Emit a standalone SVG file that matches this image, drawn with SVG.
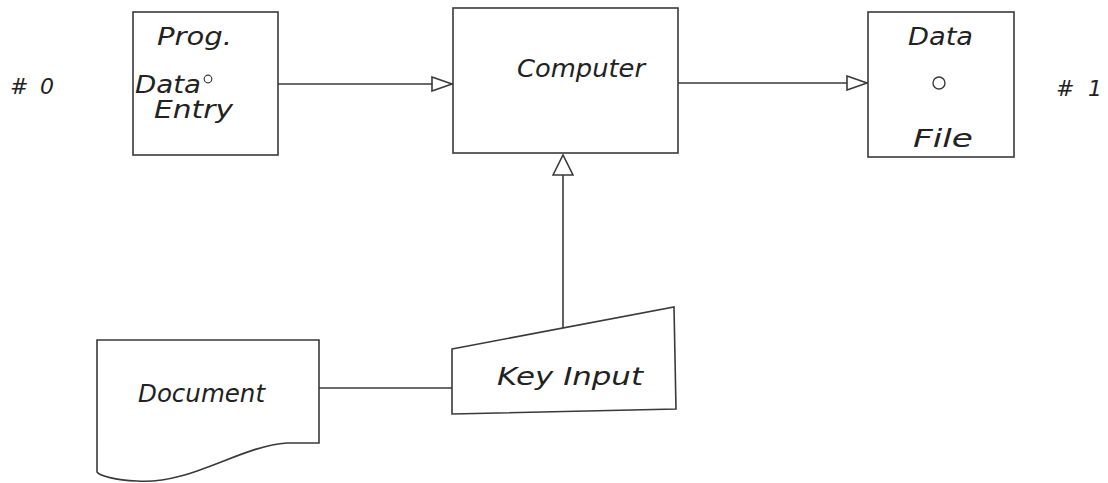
<svg xmlns="http://www.w3.org/2000/svg" width="1108" height="483" viewBox="0 0 1108 483">
  <style>
    .shape { fill: none; stroke: #3a3a3a; stroke-width: 1.6; }
    .conn { fill: none; stroke: #3a3a3a; stroke-width: 1.6; }
    .lbl { font-family: "DejaVu Sans", "Liberation Sans", sans-serif; font-style: italic; font-size: 24px; fill: #222; }
    .tag { font-family: "DejaVu Sans", "Liberation Sans", sans-serif; font-style: italic; font-size: 22px; fill: #222; }
  </style>
  <defs>
    <marker id="tri" viewBox="0 0 22 16" refX="22" refY="8" markerWidth="22" markerHeight="16" markerUnits="userSpaceOnUse" orient="auto">
      <path d="M1,1 L21,8 L1,15 Z" fill="#fff" stroke="#3a3a3a" stroke-width="1.6"/>
    </marker>
    <marker id="triUp" viewBox="0 0 22 22" refX="21" refY="11" markerWidth="22" markerHeight="22" markerUnits="userSpaceOnUse" orient="auto">
      <path d="M1,1 L21,11 L1,21 Z" fill="#fff" stroke="#3a3a3a" stroke-width="1.6"/>
    </marker>
  </defs>
  <rect width="1108" height="483" fill="#fff"/>

  <text class="tag" x="10" y="94" textLength="44" lengthAdjust="spacing">#  0</text>
  <text class="tag" x="1056" y="96" textLength="46" lengthAdjust="spacing">#  1</text>

  <g id="connectors">
    <line class="conn" x1="278" y1="84" x2="453" y2="84" marker-end="url(#tri)"/>
    <line class="conn" x1="678" y1="83" x2="868" y2="83" marker-end="url(#tri)"/>
    <line class="conn" x1="563" y1="328" x2="563" y2="155" marker-end="url(#triUp)"/>
    <line class="conn" x1="319" y1="388" x2="452" y2="388"/>
  </g>

  <g id="node-prog">
    <rect class="shape" x="133" y="12" width="145" height="143"/>
    <text class="lbl" x="157" y="45" textLength="75" lengthAdjust="spacingAndGlyphs">Prog.</text>
    <text class="lbl" x="135" y="93" textLength="66" lengthAdjust="spacingAndGlyphs">Data</text>
    <circle cx="208" cy="79" r="3.8" fill="none" stroke="#3a3a3a" stroke-width="1.2"/>
    <text class="lbl" x="154" y="118" textLength="79" lengthAdjust="spacingAndGlyphs">Entry</text>
  </g>

  <g id="node-computer">
    <rect class="shape" x="453" y="8" width="225" height="145"/>
    <text class="lbl" x="517" y="77" textLength="128" lengthAdjust="spacingAndGlyphs">Computer</text>
  </g>

  <g id="node-datafile">
    <rect class="shape" x="868" y="12" width="146" height="145"/>
    <text class="lbl" x="908" y="45" textLength="65" lengthAdjust="spacingAndGlyphs">Data</text>
    <circle cx="939" cy="83" r="6" fill="none" stroke="#3a3a3a" stroke-width="1.4"/>
    <text class="lbl" x="913" y="147" textLength="60" lengthAdjust="spacingAndGlyphs">File</text>
  </g>

  <g id="node-keyinput">
    <path class="shape" d="M452,349 L674,307 L676,409 L452,414 Z"/>
    <text class="lbl" x="497" y="385" textLength="146" lengthAdjust="spacingAndGlyphs">Key Input</text>
  </g>

  <g id="node-document">
    <path class="shape" d="M97,340 L319,340 L319,443 L287,443 C240,446 190,485 137,481 C115,480 100,476 97,472 Z"/>
    <text class="lbl" x="138" y="402" textLength="127" lengthAdjust="spacingAndGlyphs">Document</text>
  </g>
</svg>
